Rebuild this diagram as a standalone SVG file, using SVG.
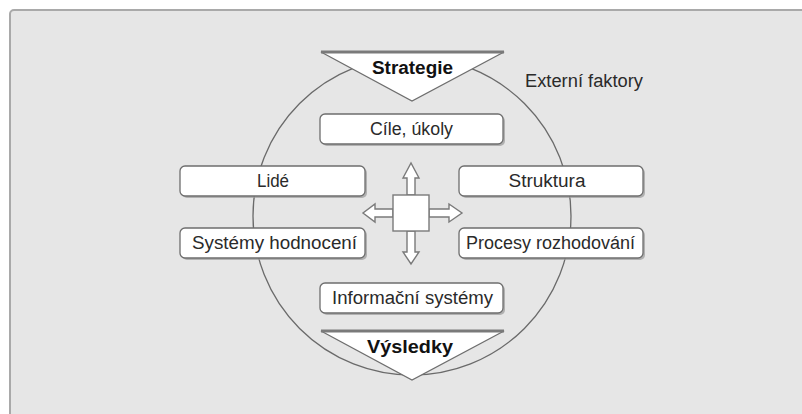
<svg xmlns="http://www.w3.org/2000/svg" width="802" height="414" viewBox="0 0 802 414">
<style>
.t{font-family:"Liberation Sans",Arial,sans-serif;font-size:18px;fill:#2a2a2a;text-anchor:middle}
.b{font-weight:bold;fill:#111}
.box{fill:#ffffff;stroke:#6e6e6e;stroke-width:1.3}
.sh{fill:#9a9a9a;opacity:0.7}
.tri{fill:#ffffff;stroke:#6e6e6e;stroke-width:1.3}
.edge{stroke:#7a7a7a;stroke-width:3}
.arr{fill:#ffffff;stroke:#7a7a7a;stroke-width:1.4}
</style>
<rect x="0" y="0" width="802" height="414" fill="#ffffff"/>
<rect x="10" y="10" width="810" height="420" rx="4" fill="#e6e6e6" stroke="#a9a9a9" stroke-width="2"/>
<g id="externi-faktory">
<circle cx="412" cy="216" r="159" fill="none" stroke="#6a6a6a" stroke-width="1.3"/>
<text class="t" x="584" y="87" textLength="118" lengthAdjust="spacingAndGlyphs">Externí faktory</text>
</g>
<g id="connectors">
<polygon class="arr" points="407,195 407,178 403,178 411,163 419,178 415,178 415,195"/>
<polygon class="arr" points="407,231 407,252 403,252 411,264 419,252 415,252 415,231"/>
<polygon class="arr" points="393,209 375,209 375,204 363,213 375,222 375,217 393,217"/>
<polygon class="arr" points="429,209 449,209 449,204 462,213 449,222 449,217 429,217"/>
</g>
<g id="center">
<rect x="393" y="195" width="36" height="36" fill="#ffffff" stroke="#7a7a7a" stroke-width="1.4"/>
</g>
<g id="strategie">
<polygon class="tri" points="321,52 504,52 412,101"/>
<line class="edge" x1="321" y1="52" x2="504" y2="52"/>
<text class="t b" x="412.5" y="74" textLength="81" lengthAdjust="spacingAndGlyphs">Strategie</text>
</g>
<g id="cile">
<rect class="sh" x="322" y="116" width="183" height="30" rx="5"/>
<rect class="box" x="320" y="114" width="183" height="30" rx="5"/>
<text class="t" x="411.5" y="135" textLength="83" lengthAdjust="spacingAndGlyphs">Cíle, úkoly</text>
</g>
<g id="lide">
<rect class="sh" x="182" y="168" width="185" height="30" rx="5"/>
<rect class="box" x="180" y="166" width="185" height="30" rx="5"/>
<text class="t" x="273" y="187" textLength="32" lengthAdjust="spacingAndGlyphs">Lidé</text>
</g>
<g id="struktura">
<rect class="sh" x="461" y="168" width="184" height="30" rx="5"/>
<rect class="box" x="459" y="166" width="184" height="30" rx="5"/>
<text class="t" x="547" y="187" textLength="77" lengthAdjust="spacingAndGlyphs">Struktura</text>
</g>
<g id="systemy-hodnoceni">
<rect class="sh" x="182" y="230" width="185" height="30" rx="5"/>
<rect class="box" x="180" y="228" width="185" height="30" rx="5"/>
<text class="t" x="274.5" y="249" textLength="165" lengthAdjust="spacingAndGlyphs">Systémy hodnocení</text>
</g>
<g id="procesy-rozhodovani">
<rect class="sh" x="461" y="230" width="184" height="30" rx="5"/>
<rect class="box" x="459" y="228" width="184" height="30" rx="5"/>
<text class="t" x="550.5" y="249" textLength="169" lengthAdjust="spacingAndGlyphs">Procesy rozhodování</text>
</g>
<g id="informacni-systemy">
<rect class="sh" x="322" y="285" width="183" height="30" rx="5"/>
<rect class="box" x="320" y="283" width="183" height="30" rx="5"/>
<text class="t" x="412.5" y="304" textLength="161" lengthAdjust="spacingAndGlyphs">Informační systémy</text>
</g>
<g id="vysledky">
<polygon class="tri" points="321,331 504,331 412,380"/>
<line class="edge" x1="321" y1="331" x2="504" y2="331"/>
<text class="t b" x="410" y="353" textLength="86" lengthAdjust="spacingAndGlyphs">Výsledky</text>
</g>
</svg>
